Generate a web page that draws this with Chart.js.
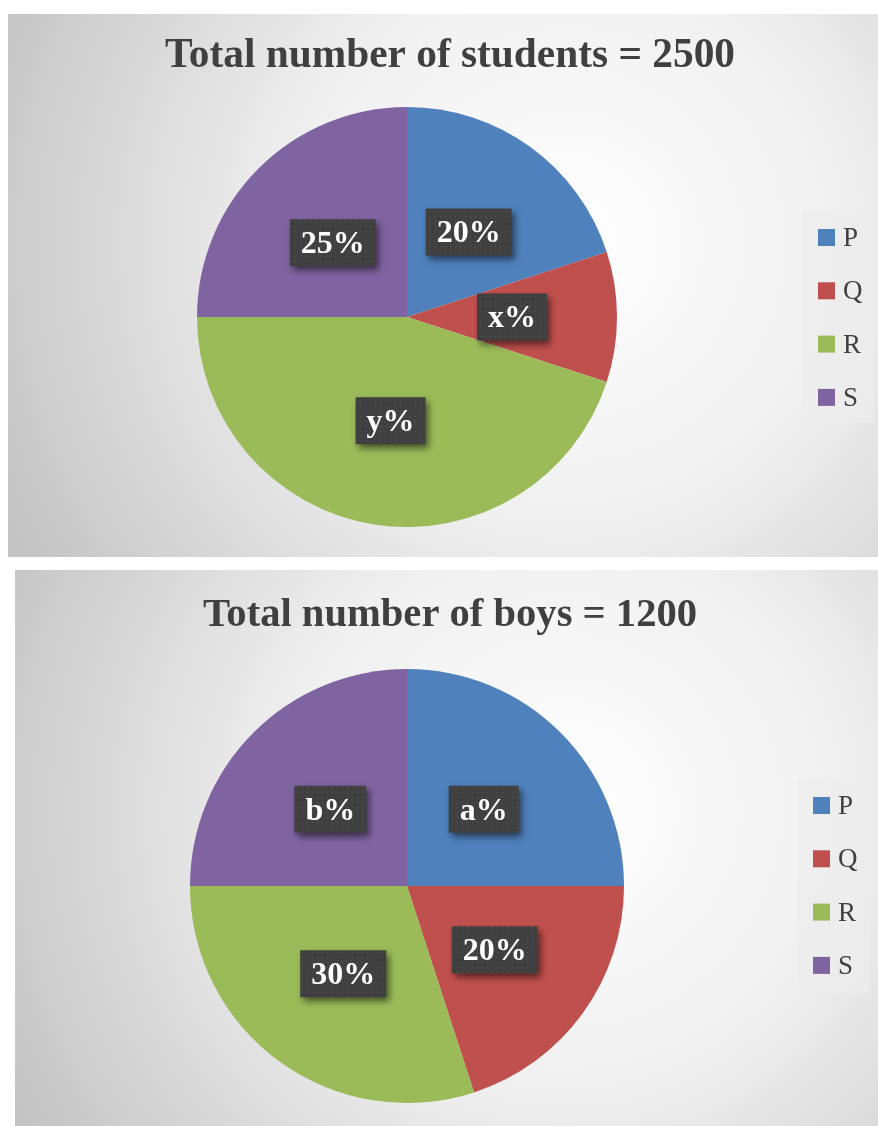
<!DOCTYPE html>
<html>
<head>
<meta charset="utf-8">
<script src="https://cdn.jsdelivr.net/npm/chart.js@4.4.0/dist/chart.umd.min.js"></script>
<style>
    html, body { margin: 0; padding: 0; background: #fff; }
    body { width: 878px; height: 1126px; position: relative; overflow: hidden; }
    canvas { position: absolute; }
    #studentsChart { left: 8px; top: 14px; }
    #boysChart { left: 15px; top: 570px; }
</style>
</head>
<body>
<canvas id="studentsChart" width="870" height="543"></canvas>
<canvas id="boysChart" width="863" height="556"></canvas>
<script>
const categories = ["P", "Q", "R", "S"];
const sliceColors = ["#4F81BD", "#C0504D", "#9BBB59", "#8064A2"];

const studentTitle = "Total number of students = 2500";
const studentShares = [20, 10, 45, 25];
const studentLabels = ["20%", "x%", "y%", "25%"];

const boyTitle = "Total number of boys = 1200";
const boyShares = [25, 20, 30, 25];
const boyLabels = ["a%", "20%", "30%", "b%"];

(function() {
    const SERIF = "'Liberation Serif', 'DejaVu Serif', serif";

    // dotted dark texture used behind the data labels
    function makeDotPattern(ctx) {
        const tile = document.createElement("canvas");
        tile.width = 5;
        tile.height = 5;
        const t = tile.getContext("2d");
        t.fillStyle = "#404040";
        t.fillRect(0, 0, 5, 5);
        t.fillStyle = "#575757";
        t.fillRect(2, 2, 1, 1);
        return ctx.createPattern(tile, "repeat");
    }

    const panelPlugin = {
        id: "panel",
        beforeDraw(chart, args, opts) {
            const { ctx, width, height } = chart;
            const g = ctx.createRadialGradient(opts.cx, opts.cy, 0, opts.cx, opts.cy, opts.r);
            g.addColorStop(0, "#ffffff");
            g.addColorStop(0.45, "#f0f0f0");
            g.addColorStop(1, "#c4c4c4");
            ctx.save();
            ctx.fillStyle = g;
            ctx.fillRect(0, 0, width, height);
            ctx.restore();
        },
        afterDraw(chart, args, opts) {
            const { ctx } = chart;
            ctx.save();

            // title, squeezed to the reference width
            ctx.font = `bold ${opts.titleSize}px ${SERIF}`;
            ctx.fillStyle = "#404040";
            ctx.textBaseline = "alphabetic";
            ctx.textAlign = "left";
            const w = ctx.measureText(opts.title).width;
            const sx = opts.titleWidth / w;
            ctx.save();
            ctx.translate(opts.titleX - opts.titleWidth / 2, opts.titleY);
            ctx.scale(sx, 1);
            ctx.fillText(opts.title, 0, 0);
            ctx.restore();

            // legend
            const lg = opts.legend;
            ctx.fillStyle = "rgba(236,236,236,0.75)";
            ctx.fillRect(lg.x, lg.y, lg.w, lg.h);
            ctx.font = `27px ${SERIF}`;
            ctx.textBaseline = "middle";
            chart.data.labels.forEach((name, i) => {
                const cy = lg.firstY + i * lg.step;
                ctx.fillStyle = chart.data.datasets[0].backgroundColor[i];
                ctx.fillRect(lg.sqX, cy - 8, 17, 17);
                ctx.fillStyle = "#404040";
                ctx.fillText(name, lg.sqX + 25, cy + 2);
            });

            // data labels at the middle of each slice
            const meta = chart.getDatasetMeta(0);
            const pattern = makeDotPattern(ctx);
            ctx.font = `bold 32px ${SERIF}`;
            ctx.textAlign = "center";
            meta.data.forEach((arc, i) => {
                const p = arc.getCenterPoint();
                const text = opts.labels[i];
                const tw = ctx.measureText(text).width;
                const bw = tw + 22;
                const bh = 47;
                ctx.save();
                ctx.shadowColor = "rgba(0,0,0,0.55)";
                ctx.shadowBlur = 7;
                ctx.shadowOffsetX = 3;
                ctx.shadowOffsetY = 4;
                ctx.fillStyle = pattern;
                ctx.fillRect(p.x - bw / 2, p.y - bh / 2, bw, bh);
                ctx.restore();
                ctx.fillStyle = "#ffffff";
                ctx.fillText(text, p.x, p.y + 2);
            });
            ctx.restore();
        }
    };

    function buildPie(canvasId, shares, labels, padding, panelOpts) {
        const el = document.getElementById(canvasId);
        return new Chart(el.getContext("2d"), {
            type: "pie",
            data: {
                labels: categories,
                datasets: [{
                    data: shares,
                    backgroundColor: sliceColors,
                    borderWidth: 0
                }]
            },
            options: {
                responsive: false,
                animation: false,
                layout: { padding: padding },
                plugins: {
                    legend: { display: false },
                    title: { display: false },
                    tooltip: { enabled: false },
                    panel: Object.assign({ labels: labels }, panelOpts)
                }
            },
            plugins: [panelPlugin]
        });
    }

    buildPie("studentsChart", studentShares, studentLabels,
        { left: 189, top: 93, right: 261, bottom: 30 },
        {
            cx: 560, cy: 230, r: 620,
            title: studentTitle, titleSize: 43, titleX: 442, titleY: 53, titleWidth: 570,
            legend: { x: 795, y: 197, w: 71, h: 212, sqX: 810, firstY: 223, step: 53.3 }
        });

    buildPie("boysChart", boyShares, boyLabels,
        { left: 175, top: 99, right: 254, bottom: 23 },
        {
            cx: 550, cy: 240, r: 620,
            title: boyTitle, titleSize: 40, titleX: 435, titleY: 56, titleWidth: 494,
            legend: { x: 783, y: 210, w: 71, h: 213, sqX: 798, firstY: 235, step: 53.3 }
        });
})();
</script>
</body>
</html>
